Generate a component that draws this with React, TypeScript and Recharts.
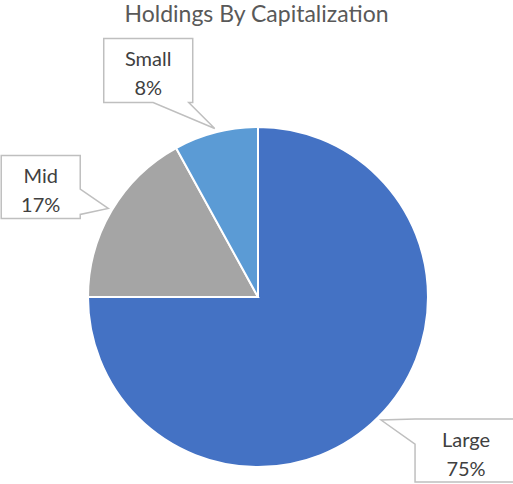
import { PieChart, Pie, Cell } from "recharts";

const categories = ["Large", "Mid", "Small"];
const shares = [75, 17, 8];
const sliceColors = ["#4472C4", "#A5A5A5", "#5B9BD5"];

const data = categories.map((name, i) => ({ name, value: shares[i] }));

// callout box placement relative to the leader tip (layout only)
const callouts: Record<string, { dx: number; dy: number; w: number; h: number }> = {
  Large: { dx: 34, dy: -1, w: 102, h: 63 },
  Mid: { dx: -107, dy: -53, w: 79, h: 63 },
  Small: { dx: -111, dy: -90, w: 89, h: 64 },
};

const RADIAN = Math.PI / 180;
const clamp = (v: number, lo: number, hi: number) => Math.max(lo, Math.min(hi, v));

function calloutPath(x: number, y: number, w: number, h: number, tx: number, ty: number) {
  const out = { top: y - ty, bottom: ty - (y + h), left: x - tx, right: tx - (x + w) };
  const side = (Object.keys(out) as (keyof typeof out)[]).reduce((a, b) => (out[b] > out[a] ? b : a));
  const r = x + w;
  const b = y + h;
  let p = `M${x},${y}`;
  if (side === "top") {
    const half = w * 0.2;
    const c = clamp(tx, x + half, r - half - 4);
    p += ` L${c - half},${y} L${tx},${ty} L${c + half},${y}`;
  }
  p += ` L${r},${y}`;
  if (side === "right") {
    const half = h * 0.2;
    const c = clamp(ty, y + half, b - half - 4);
    p += ` L${r},${c - half} L${tx},${ty} L${r},${c + half}`;
  }
  p += ` L${r},${b}`;
  if (side === "bottom") {
    const half = w * 0.2;
    const c = clamp(tx, x + half, r - half - 4);
    p += ` L${c + half},${b} L${tx},${ty} L${c - half},${b}`;
  }
  p += ` L${x},${b}`;
  if (side === "left") {
    const half = h * 0.2;
    const c = clamp(ty, y + half, b - half - 4);
    p += ` L${x},${c + half} L${tx},${ty} L${x},${c - half}`;
  }
  return p + " Z";
}

const renderCallout = (props: any) => {
  const { cx, cy, midAngle, outerRadius, name, value } = props;
  const tx = cx + (outerRadius + 4) * Math.cos(-midAngle * RADIAN);
  const ty = cy + (outerRadius + 4) * Math.sin(-midAngle * RADIAN);
  const c = callouts[name];
  const x = tx + c.dx;
  const y = ty + c.dy;
  const mx = x + c.w / 2;
  const my = y + c.h / 2;
  return (
    <g key={name}>
      <path d={calloutPath(x, y, c.w, c.h, tx, ty)} fill="#fff" stroke="#BFBFBF" strokeWidth={1.5} />
      <text x={mx} y={my - 12} textAnchor="middle" dominantBaseline="central" fill="#404040" fontSize={20}>
        {name}
      </text>
      <text x={mx} y={my + 17} textAnchor="middle" dominantBaseline="central" fill="#404040" fontSize={20}>
        {`${value}%`}
      </text>
    </g>
  );
};

export default function App() {
  return (
    <div style={{ position: "absolute", left: 0, top: 0, width: 513, height: 484, background: "#fff", overflow: "hidden", fontFamily: "Lato, sans-serif" }}>
      <div style={{ position: "absolute", left: 0, top: 0, width: 513, textAlign: "center", fontSize: 23, color: "#595959", lineHeight: "26px" }}>
        Holdings By Capitalization
      </div>
      <PieChart width={513} height={484} margin={{ top: 0, right: 0, bottom: 0, left: 0 }} style={{ fontFamily: "Lato, sans-serif" }}>
        <Pie
          data={data}
          dataKey="value"
          nameKey="name"
          cx={258}
          cy={297}
          outerRadius={170}
          startAngle={90}
          endAngle={-270}
          stroke="#fff"
          strokeWidth={2}
          labelLine={false}
          label={renderCallout}
          isAnimationActive={false}
        >
          {data.map((_, i) => (
            <Cell key={i} fill={sliceColors[i]} />
          ))}
        </Pie>
      </PieChart>
    </div>
  );
}
